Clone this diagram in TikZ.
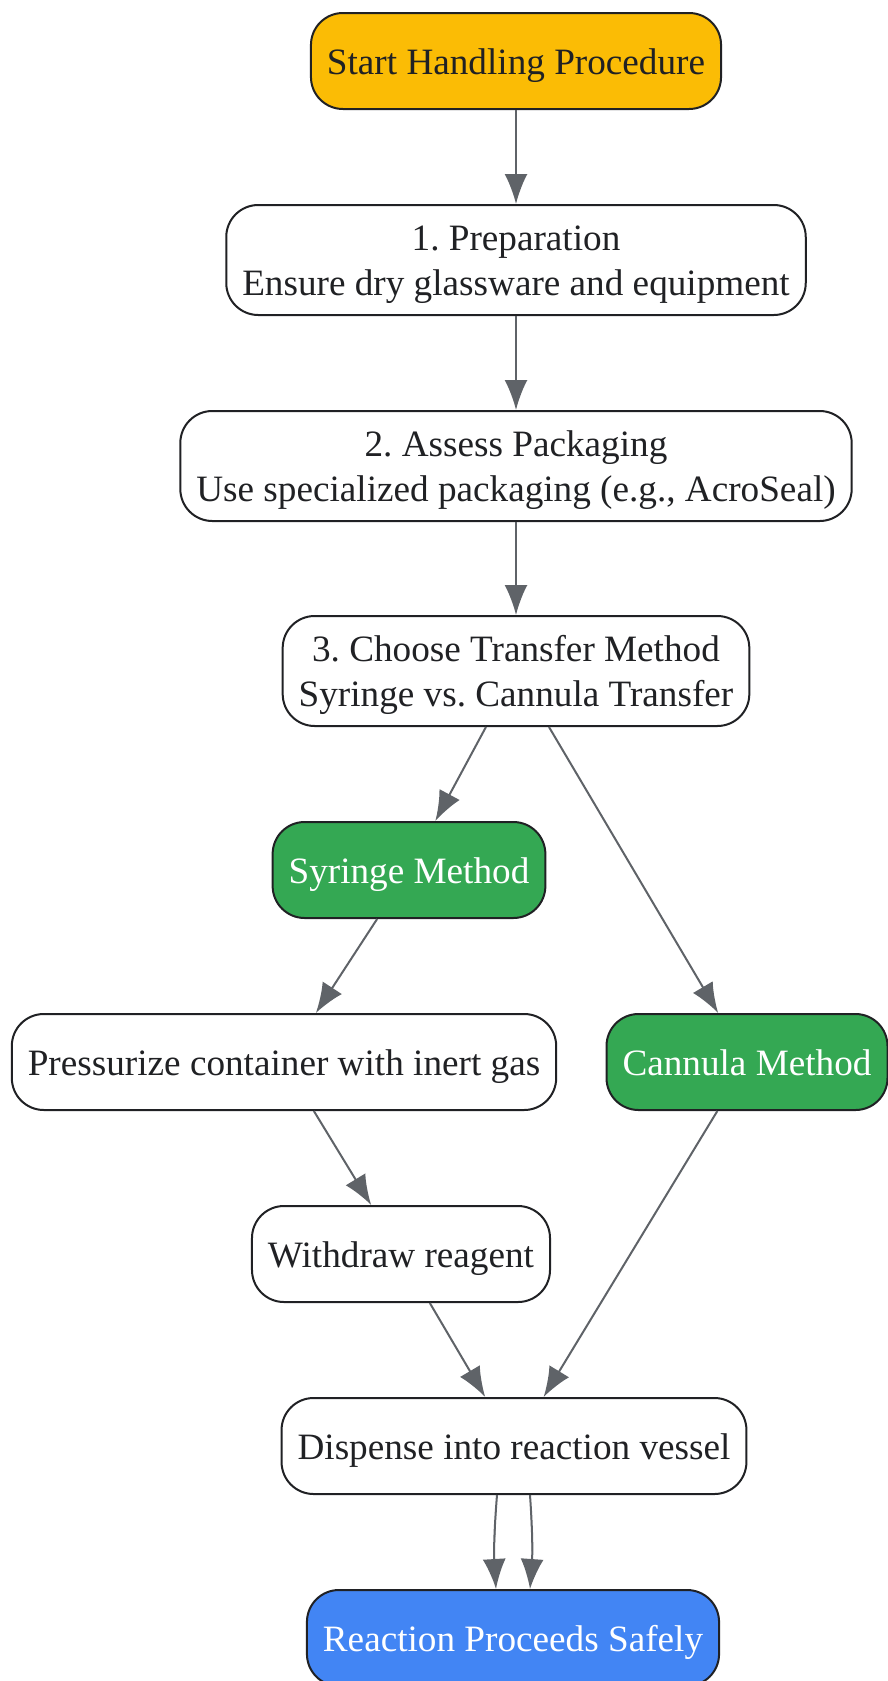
\documentclass[tikz,border=0pt]{standalone}
\usepackage{fontspec}
\setmainfont{Liberation Serif}
\frenchspacing
\usetikzlibrary{arrows.meta}
\tikzset{>={Latex[length=30pt,width=23pt]}}
\definecolor{startyellow}{HTML}{FBBC05}
\definecolor{methodgreen}{HTML}{34A853}
\definecolor{endblue}{HTML}{4285F4}
\definecolor{edgegray}{HTML}{5F6368}
\definecolor{textdark}{HTML}{202124}

\begin{document}
\begin{tikzpicture}[x=1pt, y=-1pt,
	box/.style={draw=textdark, line width=2pt, rounded corners=32pt, fill=white,
		minimum height=96pt, inner xsep=16pt, align=center, text=textdark,
		font=\fontsize{37.2}{45}\selectfont,
		execute at begin node={\rule{0pt}{36pt}},
		execute at end node={\rule[-9pt]{0pt}{9pt}}},
	tallbox/.style={box, minimum height=110pt,
		execute at begin node={\rule{0pt}{80pt}}},
	flow/.style={->, draw=edgegray, fill=edgegray, line width=2pt}]
	\useasboundingbox (0,0) rectangle (887,1681);
	% steps
	\node (start) at (516,61) [box, fill=startyellow] {Start Handling Procedure};
	\node (prep) at (516,260) [tallbox] {1. Preparation\\Ensure dry glassware and equipment};
	\node (assess) at (516,466) [tallbox] {2. Assess Packaging\\Use specialized packaging (e.g., AcroSeal)};
	\node (choose) at (516,671) [tallbox] {3. Choose Transfer Method\\Syringe vs. Cannula Transfer};
	\node (syringe) at (409,870) [box, fill=methodgreen, text=white] {Syringe Method};
	\node (pressurize) at (284,1062) [box] {Pressurize container with inert gas};
	\node (cannula) at (747,1062) [box, fill=methodgreen, text=white] {Cannula Method};
	\node (withdraw) at (401,1254) [box] {Withdraw reagent};
	\node (dispense) at (514,1446) [box] {Dispense into reaction vessel};
	\node (reaction) at (513,1638) [box, fill=endblue, text=white] {Reaction Proceeds Safely};
	% connectors
	\draw [flow] (start) -- (prep);
	\draw [flow] (prep) -- (assess);
	\draw [flow] (assess) -- (choose);
	\draw [flow] (choose) -- (syringe);
	\draw [flow] (choose) -- (cannula);
	\draw [flow] (syringe) -- (pressurize);
	\draw [flow] (pressurize) -- (withdraw);
	\draw [flow] (withdraw) -- (dispense);
	\draw [flow] (cannula) -- (dispense);
	\draw [flow] ([xshift=-17pt]dispense.south) to [bend right=4] ([xshift=-17pt]reaction.north);
	\draw [flow] ([xshift=16pt]dispense.south) to [bend left=4] ([xshift=17pt]reaction.north);
\end{tikzpicture}
\end{document}
